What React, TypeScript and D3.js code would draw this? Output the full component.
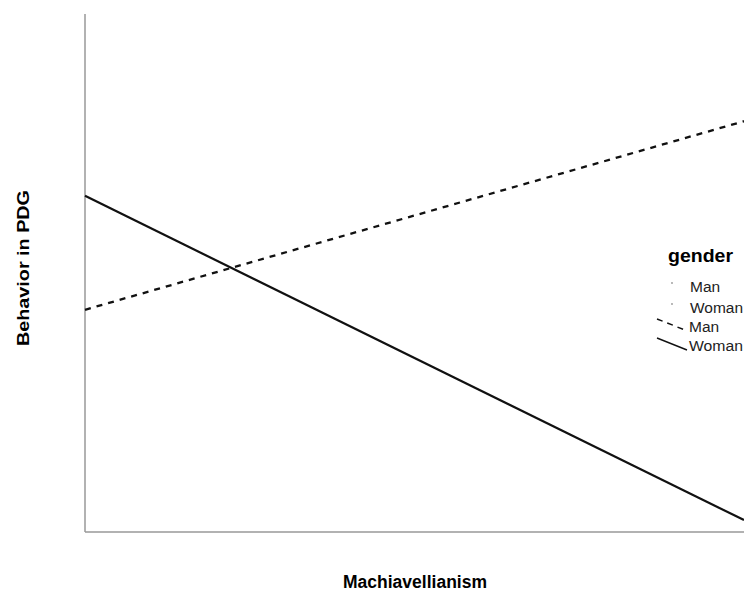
import React from "react";
import * as d3 from "d3";

const xDomain = [0, 10];
const yDomain = [0, 10];
const groups = ["Man", "Woman"];
// fitted line endpoints (Machiavellianism min/max -> predicted behavior)
const manLine = [
  { x: 0, y: 4.29 },
  { x: 10, y: 7.93 },
];
const womanLine = [
  { x: 0, y: 6.49 },
  { x: 10, y: 0.23 },
];

export default function App() {
  const W = 744, H = 592;
  const left = 85, right = 744, top = 14, bottom = 532;
  const x = d3.scaleLinear().domain(xDomain).range([left, right]);
  const y = d3.scaleLinear().domain(yDomain).range([bottom, top]);
  const line = d3.line<{ x: number; y: number }>().x(d => x(d.x)).y(d => y(d.y));
  const font = "'Liberation Sans', Arial, sans-serif";
  return (
    <svg width={W} height={H} style={{ position: "absolute", left: 0, top: 0, background: "#fff" }} fontFamily={font}>
      <line x1={left} x2={left} y1={top} y2={bottom} stroke="#999" strokeWidth={1.5} />
      <line x1={left} x2={right} y1={bottom} y2={bottom} stroke="#999" strokeWidth={1.5} />
      <path d={line(manLine) || ""} fill="none" stroke="#111" strokeWidth={2.3} strokeDasharray="6,6" />
      <path d={line(womanLine) || ""} fill="none" stroke="#111" strokeWidth={2.2} />
      <text x={415} y={588} textAnchor="middle" fontSize={17.5} fontWeight="bold" textLength={144} lengthAdjust="spacingAndGlyphs">Machiavellianism</text>
      <text transform="translate(29,268) rotate(-90)" textAnchor="middle" fontSize={17} fontWeight="bold" textLength={156} lengthAdjust="spacingAndGlyphs">Behavior in PDG</text>
      <g>
        <text x={668} y={262} fontSize={18} fontWeight="bold" textLength={65} lengthAdjust="spacingAndGlyphs">gender</text>
        <circle cx={672} cy={283} r={0.9} fill="#999" />
        <text x={690} y={292} fontSize={15.5} fill="#222">{groups[0]}</text>
        <circle cx={672} cy={304} r={0.9} fill="#999" />
        <text x={690} y={313} fontSize={15.5} fill="#222" textLength={53} lengthAdjust="spacingAndGlyphs">{groups[1]}</text>
        <line x1={657} y1={319} x2={685} y2={330} stroke="#111" strokeWidth={1.4} strokeDasharray="6,5" />
        <text x={689} y={332} fontSize={15.5} fill="#222">{groups[0]}</text>
        <line x1={657} y1={338} x2={687} y2={350} stroke="#111" strokeWidth={1.4} />
        <text x={689} y={351} fontSize={15.5} fill="#222" textLength={54} lengthAdjust="spacingAndGlyphs">{groups[1]}</text>
      </g>
    </svg>
  );
}
